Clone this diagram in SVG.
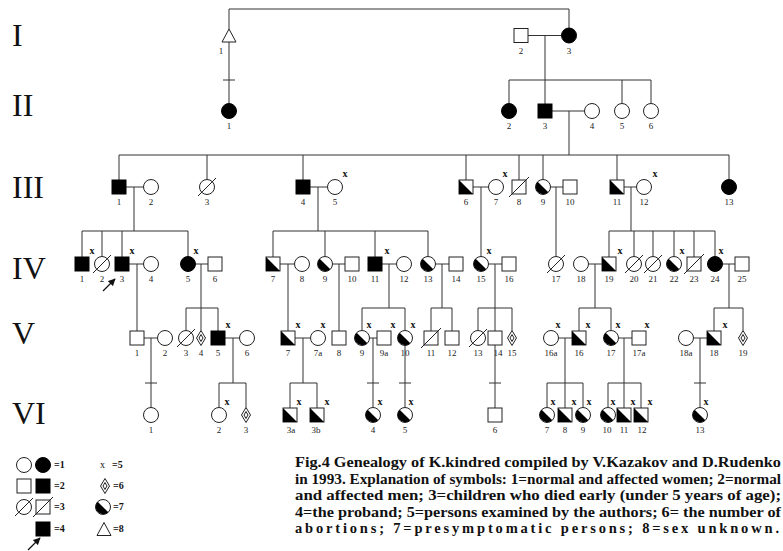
<svg xmlns="http://www.w3.org/2000/svg" width="783" height="551" viewBox="0 0 783 551">
<style>
.o{fill:#fff;stroke:#222;stroke-width:1}
.f{fill:#000;stroke:#000;stroke-width:1}
.k{fill:#000;stroke:none}
.s{stroke:#222;stroke-width:1}
#connectors path{fill:none;stroke:#333;stroke-width:1}
.lb{font-family:"Liberation Serif",serif;font-size:9px;fill:#222;text-anchor:middle}
.x{font-family:"Liberation Serif",serif;font-size:10px;font-weight:bold;fill:#111;text-anchor:middle}
.gen{font-family:"Liberation Serif",serif;font-size:32px;fill:#111}
.lg{font-family:"Liberation Serif",serif;font-size:10px;font-weight:bold;fill:#111}
.cap{font-family:"Liberation Serif",serif;font-size:14.5px;font-weight:bold;fill:#111}
.ar{stroke:#111;stroke-width:1.2;fill:none}
</style>
<defs>
<rect id="sq" x="-7" y="-7" width="14" height="14" class="o"/>
<rect id="sqf" x="-7" y="-7" width="14" height="14" class="f"/>
<g id="sqh"><rect x="-7" y="-7" width="14" height="14" class="o"/><path d="M-7,-7 L-7,7 L7,7 Z" class="k"/></g>
<g id="sqd"><rect x="-7" y="-7" width="14" height="14" class="o"/><line x1="-10" y1="10" x2="10" y2="-10" class="s"/></g>
<circle id="ci" r="7.5" class="o"/>
<circle id="cif" r="7.5" class="f"/>
<g id="cih"><circle r="7.5" class="o"/><path d="M-5.3,-5.3 A7.5,7.5 0 0 0 5.3,5.3 Z" class="k"/></g>
<g id="cid"><circle r="7.5" class="o"/><line x1="-9" y1="9" x2="9" y2="-9" class="s"/></g>
<g id="dia"><polygon points="0,-7.5 4.5,0 0,7.5 -4.5,0" class="o"/><polygon points="0,-3.5 2,0 0,3.5 -2,0" class="o"/></g>
<polygon id="tri" points="0,-6.5 7,6.5 -7,6.5" class="o"/>
<marker id="ah" viewBox="0 0 10 10" refX="9" refY="5" markerWidth="6" markerHeight="6" orient="auto"><path d="M0,0 L10,5 L0,10 Z" fill="#111"/></marker>
</defs>
<rect width="783" height="551" fill="#fff"/>

<g id="generations">
<text class="gen" x="12" y="46">I</text>
<text class="gen" x="12" y="116">II</text>
<text class="gen" x="12" y="198">III</text>
<text class="gen" x="12" y="279">IV</text>
<text class="gen" x="12" y="344">V</text>
<text class="gen" x="12" y="424">VI</text>
</g>

<g id="connectors">
<path d="M229,29V9H569V28 M229,42V103.5 M223,80H235 M528,35.5H561.5 M545,35.5V104 M509,80H651 M509,80V103.5 M622,80V103.5 M651,80V103.5 M552,111H584.5 M569,111V155"/>
<path d="M119,155H729 M119,155V180 M207,155V179.5 M303,155V180 M466,155V180 M519,155V180 M543,155V179.5 M617,155V180 M729,155V179.5"/>
<path d="M126,187H143.5 M134,187V231 M82,231H188 M82,231V257 M102,231V256.5 M122,231V257 M188,231V256.5"/>
<path d="M310,187H327.5 M318,187V231 M273,231H428 M273,231V257 M325,231V256.5 M375,231V257 M428,231V256.5"/>
<path d="M473,187H488.5 M481,187V256.5 M550.5,187H563 M556,187V256.5"/>
<path d="M624,187H636.5 M631,187V231 M609,231H715 M609,231V257 M634,231V256.5 M653,231V256.5 M674,231V256.5 M694,231V257 M715,231V256.5"/>
<path d="M129,264H143.5 M137,264V331 M195.5,264H208 M201,264V330.5 M186,308H218 M186,308V330.5 M218,308V331"/>
<path d="M280,264H294.5 M288,264V331 M332.5,264H345 M339,264V331 M382,264H396.5 M389,264V308 M362,308H405 M362,308V330.5 M405,308V330.5"/>
<path d="M435.5,264H449 M442,264V308 M431,308H452 M431,308V331 M452,308V331 M488.5,264H502 M495,264V331 M478,308H512 M478,308V330.5 M512,308V330.5"/>
<path d="M588.5,264H602 M595,264V308 M579,308H611 M579,308V331 M611,308V330.5 M722.5,264H735 M729,264V308 M714,308H743 M714,308V331 M743,308V330.5"/>
<path d="M144,338H157.5 M151,338V407.5 M145,383H157 M225,338H239.5 M233,338V383 M219,383H246 M219,383V407.5 M246,383V407.5"/>
<path d="M295,338H310.5 M303,338V383 M290,383H317 M290,383V408 M317,383V408 M369.5,338H377 M373,338V407.5 M367,383H379 M405,345.5V407.5 M399,383H411 M495,345V408 M489,383H501"/>
<path d="M558.5,338H572 M565,338V383 M547,383H583 M547,383V407.5 M565,383V408 M583,383V407.5 M618.5,338H632 M624,338V383 M608,383H641 M608,383V407.5 M624,383V408 M641,383V408 M693.5,338H707 M700,338V407.5 M694,383H706"/>
</g>

<g id="gen-I">
<g id="I-1"><use href="#tri" x="229" y="35.5"/><text class="lb" x="221" y="54">1</text></g>
<g id="I-2"><use href="#sq" x="521" y="35.5"/><text class="lb" x="521" y="54">2</text></g>
<g id="I-3"><use href="#cif" x="569" y="35.5"/><text class="lb" x="569" y="54">3</text></g>
</g>
<g id="gen-II">
<g id="II-1"><use href="#cif" x="229" y="111"/><text class="lb" x="229" y="129">1</text></g>
<g id="II-2"><use href="#cif" x="509" y="111"/><text class="lb" x="509" y="129">2</text></g>
<g id="II-3"><use href="#sqf" x="545" y="111"/><text class="lb" x="545" y="129">3</text></g>
<g id="II-4"><use href="#ci" x="592" y="111"/><text class="lb" x="592" y="129">4</text></g>
<g id="II-5"><use href="#ci" x="622" y="111"/><text class="lb" x="622" y="129">5</text></g>
<g id="II-6"><use href="#ci" x="651" y="111"/><text class="lb" x="651" y="129">6</text></g>
</g>
<g id="gen-III">
<g id="III-1"><use href="#sqf" x="119" y="187"/><text class="lb" x="119" y="205">1</text></g>
<g id="III-2"><use href="#ci" x="151" y="187"/><text class="lb" x="151" y="205">2</text></g>
<g id="III-3"><use href="#cid" x="207" y="187"/><text class="lb" x="207" y="205">3</text></g>
<g id="III-4"><use href="#sqf" x="303" y="187"/><text class="lb" x="303" y="205">4</text></g>
<g id="III-5"><use href="#ci" x="335" y="187"/><text class="lb" x="335" y="205">5</text><text class="x" x="345" y="177">x</text></g>
<g id="III-6"><use href="#sqh" x="466" y="187"/><text class="lb" x="466" y="205">6</text></g>
<g id="III-7"><use href="#ci" x="496" y="187"/><text class="lb" x="496" y="205">7</text><text class="x" x="505" y="177">x</text></g>
<g id="III-8"><use href="#sqd" x="519" y="187"/><text class="lb" x="519" y="205">8</text></g>
<g id="III-9"><use href="#cih" x="543" y="187"/><text class="lb" x="543" y="205">9</text></g>
<g id="III-10"><use href="#sq" x="570" y="187"/><text class="lb" x="570" y="205">10</text></g>
<g id="III-11"><use href="#sqh" x="617" y="187"/><text class="lb" x="617" y="205">11</text></g>
<g id="III-12"><use href="#ci" x="644" y="187"/><text class="lb" x="644" y="205">12</text><text class="x" x="655" y="177">x</text></g>
<g id="III-13"><use href="#cif" x="729" y="187"/><text class="lb" x="729" y="205">13</text></g>
</g>
<g id="gen-IV">
<g id="IV-1"><use href="#sqf" x="82" y="264"/><text class="lb" x="82" y="282">1</text><text class="x" x="92" y="254">x</text></g>
<g id="IV-2"><use href="#cid" x="102" y="264"/><text class="lb" x="102" y="282">2</text></g>
<g id="IV-3"><use href="#sqf" x="122" y="264"/><text class="lb" x="122" y="282">3</text><text class="x" x="132" y="254">x</text><path class="ar" d="M103,291L115,279" marker-end="url(#ah)"/></g>
<g id="IV-4"><use href="#ci" x="151" y="264"/><text class="lb" x="151" y="282">4</text></g>
<g id="IV-5"><use href="#cif" x="188" y="264"/><text class="lb" x="188" y="282">5</text><text class="x" x="196" y="254">x</text></g>
<g id="IV-6"><use href="#sq" x="215" y="264"/><text class="lb" x="215" y="282">6</text></g>
<g id="IV-7"><use href="#sqh" x="273" y="264"/><text class="lb" x="273" y="282">7</text></g>
<g id="IV-8"><use href="#ci" x="302" y="264"/><text class="lb" x="302" y="282">8</text></g>
<g id="IV-9"><use href="#cih" x="325" y="264"/><text class="lb" x="325" y="282">9</text></g>
<g id="IV-10"><use href="#sq" x="352" y="264"/><text class="lb" x="352" y="282">10</text></g>
<g id="IV-11"><use href="#sqf" x="375" y="264"/><text class="lb" x="375" y="282">11</text><text class="x" x="387" y="254">x</text></g>
<g id="IV-12"><use href="#ci" x="404" y="264"/><text class="lb" x="404" y="282">12</text></g>
<g id="IV-13"><use href="#cih" x="428" y="264"/><text class="lb" x="428" y="282">13</text></g>
<g id="IV-14"><use href="#sq" x="456" y="264"/><text class="lb" x="456" y="282">14</text></g>
<g id="IV-15"><use href="#cih" x="481" y="264"/><text class="lb" x="481" y="282">15</text><text class="x" x="489" y="254">x</text></g>
<g id="IV-16"><use href="#sq" x="509" y="264"/><text class="lb" x="509" y="282">16</text></g>
<g id="IV-17"><use href="#cid" x="556" y="264"/><text class="lb" x="556" y="282">17</text></g>
<g id="IV-18"><use href="#ci" x="581" y="264"/><text class="lb" x="581" y="282">18</text></g>
<g id="IV-19"><use href="#sqh" x="609" y="264"/><text class="lb" x="609" y="282">19</text><text class="x" x="620" y="254">x</text></g>
<g id="IV-20"><use href="#cid" x="634" y="264"/><text class="lb" x="634" y="282">20</text></g>
<g id="IV-21"><use href="#cid" x="653" y="264"/><text class="lb" x="653" y="282">21</text></g>
<g id="IV-22"><use href="#cih" x="674" y="264"/><text class="lb" x="674" y="282">22</text><text class="x" x="682" y="254">x</text></g>
<g id="IV-23"><use href="#sqd" x="694" y="264"/><text class="lb" x="694" y="282">23</text></g>
<g id="IV-24"><use href="#cif" x="715" y="264"/><text class="lb" x="715" y="282">24</text><text class="x" x="721" y="254">x</text></g>
<g id="IV-25"><use href="#sq" x="742" y="264"/><text class="lb" x="742" y="282">25</text></g>
</g>
<g id="gen-V">
<g id="V-1"><use href="#sq" x="137" y="338"/><text class="lb" x="137" y="356">1</text></g>
<g id="V-2"><use href="#ci" x="165" y="338"/><text class="lb" x="165" y="356">2</text></g>
<g id="V-3"><use href="#cid" x="186" y="338"/><text class="lb" x="186" y="356">3</text></g>
<g id="V-4"><use href="#dia" x="201" y="338"/><text class="lb" x="201" y="356">4</text></g>
<g id="V-5"><use href="#sqf" x="218" y="338"/><text class="lb" x="218" y="356">5</text><text class="x" x="228" y="328">x</text></g>
<g id="V-6"><use href="#ci" x="247" y="338"/><text class="lb" x="247" y="356">6</text></g>
<g id="V-7"><use href="#sqh" x="288" y="338"/><text class="lb" x="288" y="356">7</text><text class="x" x="298" y="328">x</text></g>
<g id="V-7a"><use href="#ci" x="318" y="338"/><text class="lb" x="318" y="356">7a</text><text class="x" x="323" y="328">x</text></g>
<g id="V-8"><use href="#sq" x="339" y="338"/><text class="lb" x="339" y="356">8</text></g>
<g id="V-9"><use href="#cih" x="362" y="338"/><text class="lb" x="362" y="356">9</text><text class="x" x="369" y="328">x</text></g>
<g id="V-9a"><use href="#sq" x="384" y="338"/><text class="lb" x="384" y="356">9a</text><text class="x" x="393" y="328">x</text></g>
<g id="V-10"><use href="#cih" x="405" y="338"/><text class="lb" x="405" y="356">10</text><text class="x" x="413" y="328">x</text></g>
<g id="V-11"><use href="#sqd" x="431" y="338"/><text class="lb" x="431" y="356">11</text></g>
<g id="V-12"><use href="#sq" x="452" y="338"/><text class="lb" x="452" y="356">12</text></g>
<g id="V-13"><use href="#cid" x="478" y="338"/><text class="lb" x="478" y="356">13</text></g>
<g id="V-14"><use href="#sq" x="495" y="338"/><text class="lb" x="498" y="356">14</text></g>
<g id="V-15"><use href="#dia" x="512" y="338"/><text class="lb" x="512" y="356">15</text></g>
<g id="V-16a"><use href="#ci" x="551" y="338"/><text class="lb" x="551" y="356">16a</text><text class="x" x="558" y="328">x</text></g>
<g id="V-16"><use href="#sqh" x="579" y="338"/><text class="lb" x="579" y="356">16</text><text class="x" x="588" y="328">x</text></g>
<g id="V-17"><use href="#cih" x="611" y="338"/><text class="lb" x="611" y="356">17</text><text class="x" x="618" y="328">x</text></g>
<g id="V-17a"><use href="#sq" x="639" y="338"/><text class="lb" x="639" y="356">17a</text><text class="x" x="647" y="328">x</text></g>
<g id="V-18a"><use href="#ci" x="686" y="338"/><text class="lb" x="686" y="356">18a</text></g>
<g id="V-18"><use href="#sqh" x="714" y="338"/><text class="lb" x="714" y="356">18</text><text class="x" x="725" y="328">x</text></g>
<g id="V-19"><use href="#dia" x="743" y="338"/><text class="lb" x="743" y="356">19</text></g>
</g>
<g id="gen-VI">
<g id="VI-1"><use href="#ci" x="151" y="415"/><text class="lb" x="151" y="433">1</text></g>
<g id="VI-2"><use href="#ci" x="219" y="415"/><text class="lb" x="219" y="433">2</text><text class="x" x="227" y="405">x</text></g>
<g id="VI-3"><use href="#dia" x="246" y="415"/><text class="lb" x="246" y="433">3</text></g>
<g id="VI-3a"><use href="#sqh" x="290" y="415"/><text class="lb" x="291" y="433">3a</text><text class="x" x="299" y="405">x</text></g>
<g id="VI-3b"><use href="#sqh" x="317" y="415"/><text class="lb" x="316" y="433">3b</text><text class="x" x="327" y="405">x</text></g>
<g id="VI-4"><use href="#cih" x="373" y="415"/><text class="lb" x="373" y="433">4</text><text class="x" x="380" y="405">x</text></g>
<g id="VI-5"><use href="#cih" x="405" y="415"/><text class="lb" x="405" y="433">5</text><text class="x" x="411" y="405">x</text></g>
<g id="VI-6"><use href="#sq" x="495" y="415"/><text class="lb" x="495" y="433">6</text></g>
<g id="VI-7"><use href="#cih" x="547" y="415"/><text class="lb" x="547" y="433">7</text><text class="x" x="553" y="405">x</text></g>
<g id="VI-8"><use href="#sqh" x="565" y="415"/><text class="lb" x="565" y="433">8</text><text class="x" x="574" y="405">x</text></g>
<g id="VI-9"><use href="#cih" x="583" y="415"/><text class="lb" x="583" y="433">9</text><text class="x" x="589" y="405">x</text></g>
<g id="VI-10"><use href="#cih" x="608" y="415"/><text class="lb" x="607" y="433">10</text><text class="x" x="613" y="405">x</text></g>
<g id="VI-11"><use href="#sqh" x="624" y="415"/><text class="lb" x="624" y="433">11</text><text class="x" x="633" y="405">x</text></g>
<g id="VI-12"><use href="#sqh" x="641" y="415"/><text class="lb" x="642" y="433">12</text><text class="x" x="650" y="405">x</text></g>
<g id="VI-13"><use href="#cih" x="700" y="415"/><text class="lb" x="700" y="433">13</text><text class="x" x="706" y="405">x</text></g>
</g>

<g id="legend">
<use href="#ci" x="24" y="465"/><use href="#cif" x="43" y="465"/><text class="lg" x="54" y="468">=1</text>
<use href="#sq" x="24" y="486"/><use href="#sqf" x="43" y="486"/><text class="lg" x="54" y="489">=2</text>
<use href="#cid" x="24" y="507"/><use href="#sqd" x="43" y="507"/><text class="lg" x="54" y="510">=3</text>
<use href="#sqf" x="43" y="529"/><text class="lg" x="54" y="532">=4</text>
<path class="ar" d="M28,550L40,538" marker-end="url(#ah)"/>
<text class="lg" x="100" y="468" style="font-weight:normal">x</text><text class="lg" x="112" y="468">=5</text>
<use href="#dia" x="105" y="486"/><text class="lg" x="113" y="489">=6</text>
<use href="#cih" x="103" y="507"/><text class="lg" x="113" y="510">=7</text>
<use href="#tri" x="104" y="529"/><text class="lg" x="113" y="532">=8</text>
</g>

<g id="caption">
<text class="cap" x="295" y="467" textLength="486" lengthAdjust="spacingAndGlyphs">Fig.4 Genealogy of K.kindred compiled by V.Kazakov and D.Rudenko</text>
<text class="cap" x="295" y="484" textLength="486" lengthAdjust="spacingAndGlyphs">in 1993. Explanation of symbols: 1=normal and affected women; 2=normal</text>
<text class="cap" x="295" y="500" textLength="486" lengthAdjust="spacingAndGlyphs">and affected men; 3=children who died early (under 5 years of age);</text>
<text class="cap" x="295" y="517" textLength="486" lengthAdjust="spacingAndGlyphs">4=the proband; 5=persons examined by the authors; 6= the number of</text>
<text class="cap" x="295" y="533" textLength="484" lengthAdjust="spacing">abortions; 7=presymptomatic persons; 8=sex unknown.</text>
</g>
</svg>
